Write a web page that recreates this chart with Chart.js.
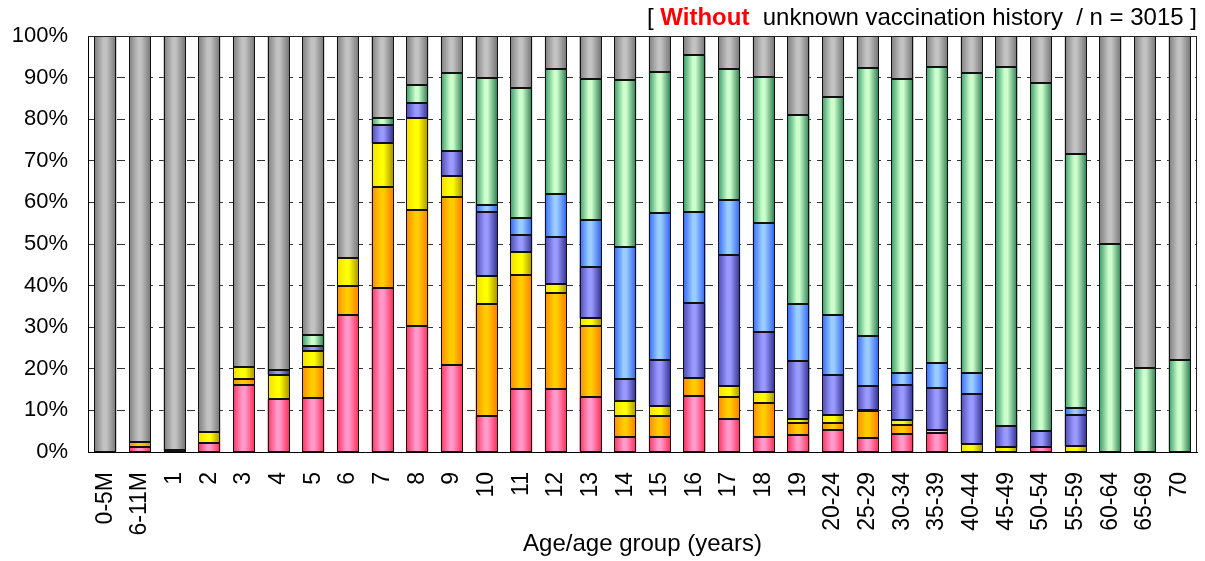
<!DOCTYPE html>
<html>
<head>
<meta charset="utf-8">
<script src="https://cdn.jsdelivr.net/npm/chart.js@4.4.1/dist/chart.umd.min.js"></script>
<style>
  html, body { margin: 0; padding: 0; background: #fff; }
  #wrap { position: relative; width: 1205px; height: 561px; }
</style>
</head>
<body>
<div id="wrap"><canvas id="c" width="1205" height="561"></canvas></div>
<script>
const categories = ['0-5M','6-11M','1','2','3','4','5','6','7','8','9','10','11','12','13','14','15','16','17','18','19','20-24','25-29','30-34','35-39','40-44','45-49','50-54','55-59','60-64','65-69','70'];

const pinkValues   = [0,1.1,0.4,2.1,16.2,12.7,12.9,33.0,39.4,30.3,20.8,8.6,15.1,15.1,13.3,3.5,3.7,13.4,8.0,3.7,4.0,5.2,3.3,4.4,4.6,0,0,1.2,0,0,0,0];
const orangeValues = [0,1.2,0,0,1.4,0,7.5,6.8,24.2,27.9,40.6,27.0,27.4,23.1,16.9,5.2,4.9,4.4,5.2,8.1,3.0,1.8,6.5,2.0,0,0,0,0,0,0,0,0];
const yellowValues = [0,0,0,2.6,2.8,5.9,3.9,6.8,10.6,22.0,5.0,6.8,5.5,2.3,1.9,3.6,2.4,0,2.6,2.6,0.9,1.8,0.4,1.4,0.7,1.9,1.2,0,1.4,0,0,0];
const purpleValues = [0,0,0,0,0,1.2,1.3,0,4.5,3.6,5.9,15.2,4.1,11.2,12.3,5.3,11.1,17.9,31.6,14.5,13.9,9.6,5.7,8.4,10.2,12.1,5.0,3.9,7.6,0,0,0];
const blueValues   = [0,0,0,0,0,0,0,0,0,0,0,1.8,4.1,10.2,11.4,31.6,35.3,22.1,13.1,26.1,13.8,14.6,12.0,2.9,6.0,5.1,0,0,1.5,0,0,0];
const greenValues  = [0,0,0,0,0,0,2.6,0,1.6,4.5,18.8,30.4,31.4,30.1,33.8,40.2,34.0,37.7,31.5,35.1,45.5,52.4,64.4,70.6,71.1,71.9,86.4,83.5,61.1,50.0,20.1,22.2];
const grayValues   = [100,97.7,99.6,95.3,79.6,80.2,71.8,53.4,19.7,11.7,8.9,10.2,12.4,8.0,10.4,10.6,8.6,4.5,8.0,9.9,18.9,14.6,7.7,10.3,7.4,9.0,7.4,11.4,28.4,50.0,79.9,77.8];

const yTicks = [0,10,20,30,40,50,60,70,80,90,100];

const BAR_PCT = 0.635;
const FONT = "'Liberation Sans', Arial, sans-serif";

const palettes = {
  pink:   ['#ff3060', '#ff9acb', '#ff2a55'],
  orange: ['#ff8a00', '#ffcc00', '#ff7a00'],
  yellow: ['#f2dc00', '#ffff00', '#a89000'],
  purple: ['#4a4ab0', '#9999ff', '#30308f'],
  blue:   ['#3366ff', '#99ccff', '#3060f0'],
  green:  ['#3a9a6a', '#ccffcc', '#2a7a50'],
  gray:   ['#7e7e7e', '#c2c2c2', '#747474']
};

function gradFor(p) {
  return function(ctx) {
    const chart = ctx.chart;
    const xs = chart.scales && chart.scales.x;
    if (!xs || !chart.chartArea || ctx.dataIndex === undefined) return p[1];
    const c = xs.getPixelForValue(ctx.dataIndex);
    const w = xs.width / categories.length * BAR_PCT;
    const g = chart.ctx.createLinearGradient(c - w / 2, 0, c + w / 2, 0);
    g.addColorStop(0, p[0]);
    g.addColorStop(0.42, p[1]);
    g.addColorStop(0.55, p[1]);
    g.addColorStop(1, p[2]);
    return g;
  };
}

function ds(values, p) {
  return {
    data: values.map(v => v === 0 ? null : v),
    backgroundColor: gradFor(p),
    borderWidth: 0,
    barPercentage: BAR_PCT,
    categoryPercentage: 1.0
  };
}

// crisp outlines around each drawn segment, using the library's element geometry
const outlinePlugin = {
  id: 'outline',
  afterDatasetsDraw(chart) {
    const c = chart.ctx;
    c.save();
    c.strokeStyle = '#111';
    c.lineWidth = 1;
    chart.data.datasets.forEach((d, di) => {
      const meta = chart.getDatasetMeta(di);
      meta.data.forEach((el, i) => {
        if (d.data[i] == null) return;
        const p = el.getProps(['x', 'y', 'base', 'width'], true);
        const l = Math.round(p.x - p.width / 2);
        const r = Math.round(p.x + p.width / 2);
        const t = Math.round(Math.min(p.y, p.base));
        const b = Math.round(Math.max(p.y, p.base));
        c.strokeRect(l + 0.5, t + 0.5, r - l - 1, Math.max(b - t - 1, 0));
      });
    });
    c.restore();
  }
};

const titlePlugin = {
  id: 'topTitle',
  afterDraw(chart) {
    const c = chart.ctx;
    const parts = [
      { t: '[ ', f: '24px ' + FONT, col: '#000' },
      { t: 'Without', f: 'bold 24px ' + FONT, col: '#ff0000' },
      { t: '  unknown vaccination history  / n = 3015 ]', f: '24px ' + FONT, col: '#000' }
    ];
    c.save();
    let total = 0;
    parts.forEach(p => { c.font = p.f; p.w = c.measureText(p.t).width; total += p.w; });
    let x = chart.chartArea.right - total;
    c.textBaseline = 'alphabetic';
    c.textAlign = 'left';
    parts.forEach(p => { c.font = p.f; c.fillStyle = p.col; c.fillText(p.t, x, 25); x += p.w; });
    c.restore();
  }
};

const framePlugin = {
  id: 'frame',
  afterDraw(chart) {
    const a = chart.chartArea;
    const c = chart.ctx;
    c.save();
    c.strokeStyle = '#222';
    c.lineWidth = 1;
    c.beginPath();
    c.moveTo(a.left, a.top + 0.5);
    c.lineTo(a.right - 0.5, a.top + 0.5);
    c.lineTo(a.right - 0.5, a.bottom);
    c.stroke();
    c.restore();
  }
};

new Chart(document.getElementById('c'), {
  type: 'bar',
  data: {
    labels: categories,
    datasets: [
      ds(pinkValues, palettes.pink),
      ds(orangeValues, palettes.orange),
      ds(yellowValues, palettes.yellow),
      ds(purpleValues, palettes.purple),
      ds(blueValues, palettes.blue),
      ds(greenValues, palettes.green),
      ds(grayValues, palettes.gray)
    ]
  },
  options: {
    responsive: false,
    animation: false,
    devicePixelRatio: 1,
    layout: { padding: { top: 36, right: 8, left: 0, bottom: 0 } },
    plugins: {
      legend: { display: false },
      tooltip: { enabled: false },
      title: { display: false }
    },
    scales: {
      x: {
        stacked: true,
        grid: { display: false, drawTicks: false },
        border: { display: true, color: '#000', width: 1 },
        ticks: {
          color: '#000',
          font: { family: FONT, size: 23 },
          minRotation: 90,
          maxRotation: 90,
          padding: 20,
          autoSkip: false
        },
        title: {
          display: true,
          text: 'Age/age group (years)',
          color: '#000',
          font: { family: FONT, size: 24 },
          padding: { top: 0, bottom: 2 }
        },
        afterFit(scale) { scale.height = 109; scale.paddingLeft = 0; scale.paddingRight = 0; }
      },
      y: {
        stacked: true,
        min: 0,
        max: 100,
        afterBuildTicks(scale) { scale.ticks = yTicks.map(v => ({ value: v })); },
        grid: {
          color: '#333',
          lineWidth: 1,
          drawTicks: false
        },
        border: { display: true, color: '#000', width: 1, dash: [8, 6] },
        ticks: {
          color: '#000',
          font: { family: FONT, size: 22 },
          padding: 20,
          callback: v => v + '%'
        },
        afterFit(scale) { scale.width = 88; scale.paddingTop = 0; scale.paddingBottom = 0; }
      }
    }
  },
  plugins: [outlinePlugin, titlePlugin, framePlugin]
});
</script>
</body>
</html>
